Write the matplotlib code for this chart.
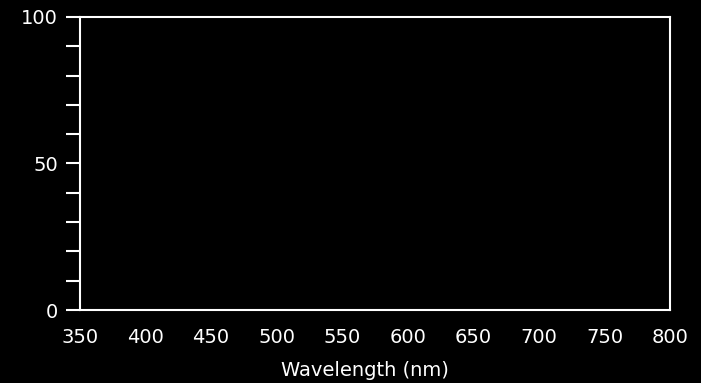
import numpy as np
from matplotlib import pyplot as plt

x_major = [350, 400, 450, 500, 550, 600, 650, 700, 750, 800]
x_inner = [400, 450, 500, 550, 600, 650, 700, 750]
y_major = [0, 50, 100]
y_minor = [10, 20, 30, 40, 60, 70, 80, 90]
x_label = 'Wavelength (nm)'


def plot():
    fig = plt.figure(figsize=(7.01, 3.83), dpi=100, facecolor='black')
    ax = fig.add_axes([80 / 701, 73 / 383, 590 / 701, 293 / 383])
    ax.set_facecolor('black')

    ax.set_xlim(350, 800)
    ax.set_ylim(0, 100)

    for s in ax.spines.values():
        s.set_color('white')
        s.set_linewidth(1.5)

    ax.set_xticks(x_major)
    ax.set_xticks(x_inner, minor=True)
    ax.set_yticks(y_major)
    ax.set_yticks(y_minor, minor=True)

    ax.tick_params(axis='x', which='major', length=0, pad=13,
                   labelsize=14, labelcolor='white')
    ax.tick_params(axis='x', which='minor', length=8, width=1.5,
                   color='white', direction='out')
    ax.tick_params(axis='y', which='both', length=10, width=1.5,
                   color='white', direction='out')
    ax.tick_params(axis='y', which='major', pad=6,
                   labelsize=14, labelcolor='white')

    ax.set_xlabel(x_label, color='white', fontsize=14, labelpad=8)
    ax.xaxis.set_label_coords(0.483, -0.175)

    fig.savefig('out.png', dpi=100, facecolor='black')


if __name__ == '__main__':
    plot()
